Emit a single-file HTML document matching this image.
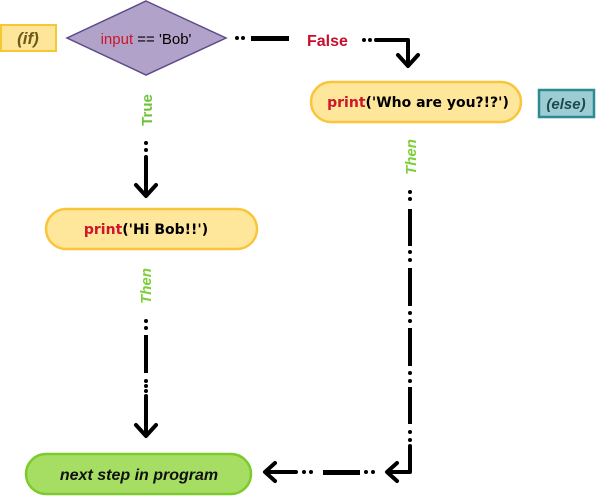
<!DOCTYPE html>
<html><head><meta charset="utf-8"><style>
html,body{margin:0;padding:0;background:#fff;}
svg{display:block;}
text{font-family:"Liberation Sans","DejaVu Sans",sans-serif;}
text.dv{font-family:"DejaVu Sans","Liberation Sans",sans-serif;}
</style></head><body>
<svg width="596" height="500" viewBox="0 0 596 500" xmlns="http://www.w3.org/2000/svg">
<g fill="#000">
<circle cx="237" cy="38" r="2"/><circle cx="243" cy="38" r="2"/>
<rect x="251" y="36" width="38" height="5"/>
<circle cx="364" cy="40" r="2"/><circle cx="370" cy="40" r="2"/>
<circle cx="410" cy="192" r="2"/><circle cx="410" cy="199" r="2"/>
<rect x="408" y="209" width="4" height="37"/>
<circle cx="410" cy="252" r="2"/><circle cx="410" cy="260" r="2"/>
<rect x="408" y="268" width="4" height="38"/>
<circle cx="410" cy="313" r="2"/><circle cx="410" cy="321" r="2"/>
<rect x="408" y="328" width="4" height="38"/>
<circle cx="410" cy="373" r="2"/><circle cx="410" cy="381" r="2"/>
<rect x="408" y="387" width="4" height="37"/>
<circle cx="410" cy="432" r="2"/><circle cx="410" cy="440" r="2"/>
<circle cx="373" cy="472" r="2"/><circle cx="366" cy="472" r="2"/>
<rect x="323" y="470" width="37" height="5"/>
<circle cx="311" cy="472" r="2"/><circle cx="304" cy="472" r="2"/>
<circle cx="146" cy="143" r="2"/><circle cx="146" cy="150" r="2"/>
<circle cx="146" cy="321" r="2"/><circle cx="146" cy="328" r="2"/>
<rect x="144" y="335" width="4" height="38"/>
<circle cx="146" cy="381" r="2"/><circle cx="146" cy="386" r="2"/><circle cx="146" cy="391" r="2"/>
</g>
<g fill="none" stroke="#000" stroke-width="4" stroke-linecap="round" stroke-linejoin="round">
<path d="M376 40 H408 V64"/><path d="M398 55 L408 66 L418 55"/>
<path d="M410 446 V472 H388"/><path d="M397 463 L387 472 L397 481"/>
<path d="M296 472 H266"/><path d="M275 463 L265 472 L275 481"/>
<path d="M146 157 V195"/><path d="M136 185 L146 196 L156 185"/>
<path d="M146 396 V435"/><path d="M136 425 L146 436 L156 425"/>
</g>
<rect x="1" y="25" width="55" height="26" fill="#fde69a" stroke="#f7c733" stroke-width="2"/>
<text x="28" y="44" text-anchor="middle" font-size="17" font-weight="bold" font-style="italic" fill="#6b5a1a">(if)</text>
<polygon points="146,1 226,38 146,75 67,38" fill="#b0a2c8" stroke="#5e4a8a" stroke-width="1.5"/>
<text x="146" y="44" text-anchor="middle" font-size="15"><tspan fill="#d0142a">input</tspan><tspan fill="#000"> == 'Bob'</tspan></text>
<text x="307" y="46" font-size="16" font-weight="bold" fill="#c8102e">False</text>
<rect x="311" y="82" width="210" height="40" rx="20" fill="#fee69b" stroke="#f9c53b" stroke-width="2.5"/>
<text class="dv" x="418" y="107" text-anchor="middle" font-size="14" font-weight="bold"><tspan fill="#d0142a">print</tspan><tspan fill="#000">('Who are you?!?')</tspan></text>
<rect x="539" y="90" width="55" height="27" fill="#9dccd2" stroke="#2b8a92" stroke-width="2.5"/>
<text x="566" y="109" text-anchor="middle" font-size="15" font-weight="bold" font-style="italic" fill="#1f4950">(else)</text>
<text transform="translate(152,110) rotate(-90)" text-anchor="middle" font-size="15" font-weight="bold" fill="#6fc23a">True</text>
<text transform="translate(416,157) rotate(-90)" text-anchor="middle" font-size="15" font-weight="bold" font-style="italic" fill="#7ccf38">Then</text>
<text transform="translate(151,286) rotate(-90)" text-anchor="middle" font-size="15" font-weight="bold" font-style="italic" fill="#7ccf38">Then</text>
<rect x="46" y="209" width="211" height="40" rx="20" fill="#fee69b" stroke="#f9c53b" stroke-width="2.5"/>
<text class="dv" x="146" y="234" text-anchor="middle" font-size="14" font-weight="bold"><tspan fill="#d0142a">print</tspan><tspan fill="#000">('Hi Bob!!')</tspan></text>
<rect x="26" y="454" width="225" height="40" rx="20" fill="#a6de64" stroke="#7dca2c" stroke-width="2.5"/>
<text x="139" y="480" text-anchor="middle" font-size="16" font-weight="bold" font-style="italic" fill="#111">next step in program</text>
</svg>
</body></html>
